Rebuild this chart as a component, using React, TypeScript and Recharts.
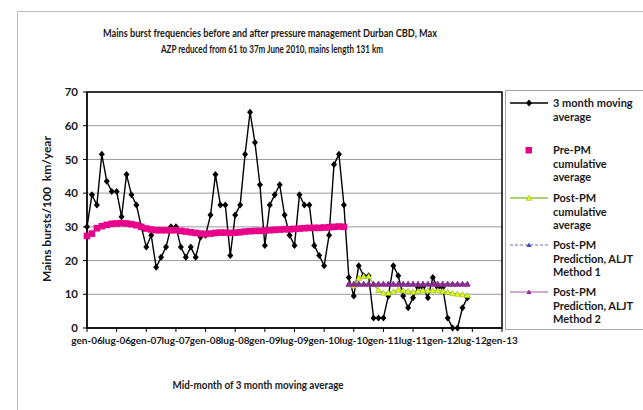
import React from 'react';
import { LineChart, Line, XAxis, YAxis, CartesianGrid, ReferenceArea } from 'recharts';

const FONT = 'Lato, "Open Sans", sans-serif';

// x axis: months counted from Jan 2006
const MONTH_TICKS = [0, 6, 12, 18, 24, 30, 36, 42, 48, 54, 60, 66, 72, 78, 84];
const TICK_LABELS = [
  'gen-06', 'lug-06', 'gen-07', 'lug-07', 'gen-08', 'lug-08', 'gen-09', 'lug-09',
  'gen-10', 'lug-10', 'gen-11', 'lug-11', 'gen-12', 'lug-12', 'gen-13',
];
const Y_TICKS = [0, 10, 20, 30, 40, 50, 60, 70];

// 3 month moving average, one value per month from gen-06
const MOVING_AVG = [
  30, 39.5, 36.5, 51.5, 43.5, 40.5, 40.5, 33, 45.5, 39.5, 36.5, 30,
  24, 27.5, 18, 21, 24, 30, 30, 24, 21, 24, 21, 27,
  27.5, 33.5, 45.5, 36.5, 36.5, 21.5, 33.5, 36.5, 51.5, 64, 55, 42.5,
  24.5, 36.5, 39.5, 42.5, 33.5, 27.5, 24.5, 39.5, 36.5, 36.5, 24.5, 21.5,
  18.5, 27.5, 48.5, 51.5, 36.5, 15, 9.5, 18.5, 15.5, 15.5, 3, 3,
  3, 9.5, 18.5, 15.5, 9.5, 6, 9, 12, 12, 9, 15, 12,
  12, 3, 0, 0, 6, 9,
];

// pre pressure management cumulative average (gen-06 .. mag-10)
const PRE_PM = [
  27.3, 28.0, 29.6, 30.2, 30.6, 30.9, 31.0, 31.1, 31.0, 30.8, 30.5, 30.0,
  29.5, 29.2, 29.0, 29.0, 29.0, 29.0, 29.0, 28.8, 28.6, 28.4, 28.2, 28.0,
  27.9, 28.0, 28.2, 28.3, 28.3, 28.2, 28.3, 28.4, 28.6, 28.7, 28.8, 28.8,
  28.9, 29.0, 29.1, 29.2, 29.3, 29.3, 29.4, 29.5, 29.6, 29.7, 29.7, 29.7,
  29.8, 29.9, 30.0, 30.1, 30.0,
];

// post PM series start in giu-10
const POST_START = 53;
const POST_PM = [
  13, 12.5, 14.8, 15.3, 15.3, 13, 11.2, 10.4, 10.4, 10.8, 11.3, 11.1,
  10.9, 10.7, 10.9, 11.1, 11.1, 11.1, 11.1, 10.9, 10.7, 10.3, 10.1, 9.9, 9.7,
];
const ALJT_M1 = [
  13.1, 13.1, 13.1, 13.1, 13.1, 13.1, 13.1, 13.1, 13.1, 13.1, 13.1, 13.1,
  13.1, 13.1, 13.1, 13.1, 13.1, 13.1, 13.1, 13.1, 13.1, 13.1, 13.1, 13.1, 13.1,
];
const ALJT_M2 = [
  13, 13, 13, 13, 13, 13, 13, 13, 13, 13, 13, 13,
  13, 13, 13, 13, 13, 13, 13, 13, 13, 13, 13, 13, 13,
];

const rows = MOVING_AVG.map((v, i) => ({
  m: i,
  mma: v,
  pre: i < PRE_PM.length ? PRE_PM[i] : null,
  post: i >= POST_START ? POST_PM[i - POST_START] : null,
  m1: i >= POST_START ? ALJT_M1[i - POST_START] : null,
  m2: i >= POST_START ? ALJT_M2[i - POST_START] : null,
}));

const PINK = '#e8008a';
const GREEN = '#8cc63f';
const BLUE = '#4a4aa8';
const PURPLE = '#93288f';

const diamondPath = (x: number, y: number) => `M${x},${y - 3.5}L${x + 3},${y}L${x},${y + 3.5}L${x - 3},${y}Z`;
const triPath = (x: number, y: number, s: number) => `M${x},${y - s}L${x + s},${y + s * 0.8}L${x - s},${y + s * 0.8}Z`;

const ok = (p: any) => p.cy != null && p.value != null && !Number.isNaN(p.cy);

const Diamond = (p: any) =>
  ok(p) ? <path key={`dm-${p.index}`} d={diamondPath(p.cx, p.cy)} fill="#000" /> : <g key={`dm-${p.index}`} />;
const Square = (p: any) =>
  ok(p) ? <rect key={`sq-${p.index}`} x={p.cx - 3.3} y={p.cy - 3.3} width={6.6} height={6.6} fill={PINK} /> : <g key={`sq-${p.index}`} />;
const makeTri = (fill: string, stroke: string, s: number, id: string) => (p: any) =>
  ok(p) ? (
    <path key={`${id}-${p.index}`} d={triPath(p.cx, p.cy, s)} fill={fill} stroke={stroke} strokeWidth={0.8} />
  ) : (
    <g key={`${id}-${p.index}`} />
  );

const GreenTri = makeTri('#ffff00', GREEN, 2.8, 'gt');
const BlueTri = makeTri(BLUE, BLUE, 2.6, 'bt');
const PurpleTri = makeTri(PURPLE, PURPLE, 2.6, 'pt');

const legendText = { fontFamily: FONT, fontSize: 11, fontWeight: 700, fill: '#1a1a1a' } as const;

function Overlay() {
  return (
    <svg width={643} height={410} style={{ position: 'absolute', left: 0, top: 0, pointerEvents: 'none' }}>
      <rect x={17.5} y={11.5} width={700} height={500} fill="none" stroke="#bdbdbd" />
      <g style={{ fontFamily: FONT, fontWeight: 700, fill: '#1a1a1a' }}>
        <text x={270} y={37} fontSize={11} textAnchor="middle" textLength={334} lengthAdjust="spacingAndGlyphs">
          Mains burst frequencies before and after pressure management Durban CBD, Max
        </text>
        <text x={272} y={53} fontSize={11} textAnchor="middle" textLength={222} lengthAdjust="spacingAndGlyphs">
          AZP reduced from 61 to 37m June 2010, mains length 131 km
        </text>
        <text x={258} y={389} fontSize={11} textAnchor="middle" textLength={171} lengthAdjust="spacingAndGlyphs">
          Mid-month of 3 month moving average
        </text>
        <text x={51} y={209} fontSize={12} textAnchor="middle" transform="rotate(-90 51 209)">
          {'Mains bursts/100\u00a0 km/year'}
        </text>
      </g>
      <rect x={505.5} y={90.5} width={200} height={239} fill="#fff" stroke="#a6a6a6" />
      {/* 3 month moving average */}
      <line x1={510} x2={548} y1={103} y2={103} stroke="#000" strokeWidth={1.5} />
      <path d={diamondPath(529, 103)} fill="#000" />
      <text x={553} y={107} {...legendText}>3 month moving</text>
      <text x={553} y={121} {...legendText}>average</text>
      {/* pre-PM */}
      <rect x={525.5} y={147} width={6.5} height={6.5} fill={PINK} />
      <text x={553} y={154} {...legendText}>Pre-PM</text>
      <text x={553} y={167.5} {...legendText}>cumulative</text>
      <text x={553} y={181} {...legendText}>average</text>
      {/* post-PM */}
      <line x1={510} x2={548} y1={198} y2={198} stroke={GREEN} strokeWidth={1.5} />
      <path d={triPath(529, 198, 2.8)} fill="#ffff00" stroke={GREEN} strokeWidth={0.8} />
      <text x={553} y={202} {...legendText}>Post-PM</text>
      <text x={553} y={215.5} {...legendText}>cumulative</text>
      <text x={553} y={229} {...legendText}>average</text>
      {/* method 1 */}
      <line x1={510} x2={548} y1={245} y2={245} stroke={BLUE} strokeWidth={0.8} strokeDasharray="3 2" />
      <path d={triPath(529, 245, 2.6)} fill={BLUE} />
      <text x={553} y={249} {...legendText}>Post-PM</text>
      <text x={553} y={262.5} {...legendText}>Prediction, ALJT</text>
      <text x={553} y={276} {...legendText}>Method 1</text>
      {/* method 2 */}
      <line x1={510} x2={548} y1={292} y2={292} stroke={PURPLE} strokeWidth={0.8} />
      <path d={triPath(529, 292, 2.6)} fill={PURPLE} />
      <text x={553} y={296} {...legendText}>Post-PM</text>
      <text x={553} y={309.5} {...legendText}>Prediction, ALJT</text>
      <text x={553} y={323} {...legendText}>Method 2</text>
    </svg>
  );
}

export default function App() {
  return (
    <div style={{ position: 'absolute', left: 0, top: 0, width: 643, height: 410, background: '#fff', overflow: 'hidden' }}>
      <LineChart width={643} height={410} data={rows} margin={{ top: 92, right: 141, left: 47, bottom: 52 }}>
        <CartesianGrid vertical={false} stroke="#9a9a9a" strokeWidth={1} />
        <XAxis
          dataKey="m"
          type="number"
          domain={[0, 84]}
          ticks={MONTH_TICKS}
          interval={0}
          tickFormatter={(v: number) => TICK_LABELS[MONTH_TICKS.indexOf(v)]}
          tickSize={4}
          tickMargin={5}
          stroke="#000"
          tick={{ fontFamily: FONT, fontSize: 10, fontWeight: 700, fill: '#1a1a1a' }}
        />
        <YAxis
          domain={[0, 70]}
          ticks={Y_TICKS}
          interval={0}
          width={40}
          tickSize={4}
          tickMargin={5}
          stroke="#000"
          tick={{ fontFamily: FONT, fontSize: 11.5, fontWeight: 700, fill: '#1a1a1a' }}
        />
        <Line dataKey="mma" type="linear" stroke="#000" strokeWidth={1.4} dot={Diamond} activeDot={false} isAnimationActive={false} />
        <Line dataKey="pre" type="linear" stroke="none" dot={Square} activeDot={false} isAnimationActive={false} />
        <Line dataKey="post" type="linear" stroke={GREEN} strokeWidth={1.5} dot={GreenTri} activeDot={false} isAnimationActive={false} />
        <Line dataKey="m1" type="linear" stroke={BLUE} strokeWidth={0.8} strokeDasharray="3 2" dot={BlueTri} activeDot={false} isAnimationActive={false} />
        <Line dataKey="m2" type="linear" stroke={PURPLE} strokeWidth={0.8} dot={PurpleTri} activeDot={false} isAnimationActive={false} />
        <ReferenceArea x1={0} x2={84} y1={0} y2={70} fill="none" stroke="#000" strokeWidth={1.5} ifOverflow="visible" />
      </LineChart>
      <Overlay />
    </div>
  );
}
